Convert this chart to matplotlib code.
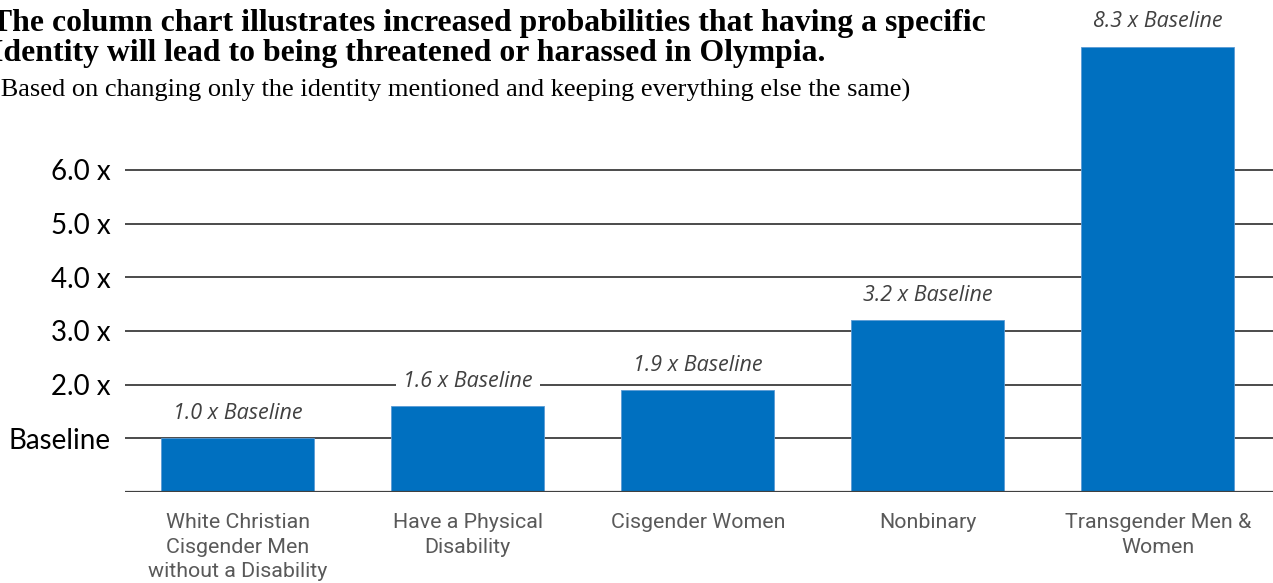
"""Column chart: increased probability of being threatened or harassed in Olympia, by identity."""

import matplotlib.pyplot as plt

CATEGORIES = [
    "White Christian\nCisgender Men\nwithout a Disability",
    "Have a Physical\nDisability",
    "Cisgender Women",
    "Nonbinary",
    "Transgender Men &\nWomen",
]
VALUES = [1.0, 1.6, 1.9, 3.2, 8.3]
YTICKS = [1, 2, 3, 4, 5, 6]
YTICK_LABELS = ["Baseline", "2.0 x", "3.0 x", "4.0 x", "5.0 x", "6.0 x"]

TITLE_LINES = [
    "The column chart illustrates increased probabilities that having a specific",
    "Identity will lead to being threatened or harassed in Olympia.",
]
SUBTITLE = "(Based on changing only the identity mentioned and keeping everything else the same)"

BAR_COLOR = "#0070C0"
LABEL_GRAY = "#595959"
NOTE_GRAY = "#404040"

W, H = 1273, 583


def main() -> None:
    fig = plt.figure(figsize=(W / 100, H / 100), dpi=100)
    ax = fig.add_axes([125 / W, 1 - 492 / H, 1 - 125 / W, (492 - 35.8) / H])

    x = list(range(len(CATEGORIES)))
    ax.set_xlim(-0.49, 4.5)
    ax.set_ylim(0, 8.5)

    # gridlines drawn under bars
    for y in YTICKS:
        ax.axhline(y, color="#1a1a1a", lw=1.1, zorder=1)
    ax.axhline(0, color="#404040", lw=1.6, zorder=4)

    ax.bar(x, VALUES, width=0.665, color=BAR_COLOR, edgecolor="#5b9bd5", lw=0.6, zorder=3)

    for xi, v in zip(x, VALUES):
        ax.annotate(
            f"{v:.1f} x Baseline",
            xy=(xi, v),
            xytext=(0, 18),
            textcoords="offset points",
            ha="center",
            va="center",
            fontsize=15.5,
            style="italic",
            family=["Open Sans", "DejaVu Sans"],
            color=NOTE_GRAY,
            bbox=dict(boxstyle="square,pad=0.33", fc="white", ec="none"),
            zorder=5,
        )

    for s in ax.spines.values():
        s.set_visible(False)

    ax.set_yticks(YTICKS)
    ax.set_yticklabels(YTICK_LABELS, family=["Lato", "DejaVu Sans"], fontsize=20, color="black")
    ax.tick_params(axis="y", length=0, pad=10)

    ax.set_xticks(x)
    ax.set_xticklabels(
        CATEGORIES,
        family=["Roboto", "DejaVu Sans"],
        fontsize=15.4,
        color=LABEL_GRAY,
        linespacing=1.38,
        va="top",
    )
    ax.tick_params(axis="x", length=0, pad=15)

    serif = ["Liberation Serif", "DejaVu Serif"]
    fig.text(-9 / W, 1 - 31 / H, TITLE_LINES[0], family=serif, fontsize=22.9,
             fontweight="bold", ha="left", va="baseline")
    fig.text(-9 / W, 1 - 61 / H, TITLE_LINES[1], family=serif, fontsize=22.9,
             fontweight="bold", ha="left", va="baseline")
    fig.text(-8 / W, 1 - 97 / H, SUBTITLE, family=serif, fontsize=19,
             ha="left", va="baseline")

    fig.savefig("out.png", dpi=100)


if __name__ == "__main__":
    main()
